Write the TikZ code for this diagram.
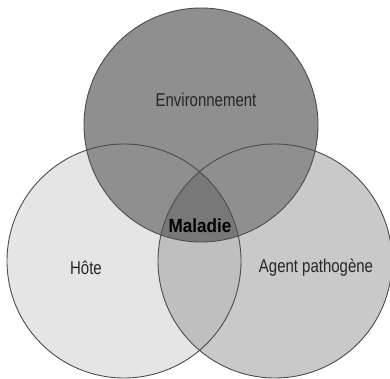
\documentclass[tikz,border=0pt]{standalone}
\usepackage{fontspec}
\setmainfont{Liberation Sans}[FakeStretch=0.81,BoldFeatures={FakeStretch=0.9}]
\definecolor{hotefill}{gray}{0.90}
\definecolor{agentfill}{gray}{0.79}
\definecolor{pairfill}{gray}{0.75}
\definecolor{envfill}{gray}{0.56}
\definecolor{maladiefill}{gray}{0.47}
\definecolor{edgegray}{gray}{0.30}
\newcommand{\circrad}{117}
\begin{document}
\begin{tikzpicture}
[x=1pt,y=-1pt,
  circledecorate/.style={draw=edgegray,line width=0.9pt},%
  labeldecorate/.style={font=\fontsize{18.5}{22}\selectfont,text=black!85}]
\useasboundingbox (0,0) rectangle (390,379);
% centres of the circles
\coordinate (env) at (201,125);
\coordinate (hote) at (124,261);
\coordinate (agent) at (275,261);
% fills
\fill[hotefill] (hote) circle [radius=\circrad];
\fill[agentfill] (agent) circle [radius=\circrad];
\begin{scope}
\clip (hote) circle [radius=\circrad];
\fill[pairfill] (agent) circle [radius=\circrad];
\end{scope}
\fill[envfill] (env) circle [radius=\circrad];
\begin{scope}
\clip (hote) circle [radius=\circrad];
\clip (agent) circle [radius=\circrad];
\fill[maladiefill] (env) circle [radius=\circrad];
\end{scope}
% outlines
\path[circledecorate]
(env) circle [radius=\circrad]
(hote) circle [radius=\circrad]
(agent) circle [radius=\circrad];
% labels
\node[labeldecorate] (envlabel) at (206,100) {Environnement};
\node[labeldecorate] (hotelabel) at (86,268) {Hôte};
\node[labeldecorate] (agentlabel) at (316,268) {Agent pathogène};
\node[labeldecorate,font=\fontsize{19}{22}\selectfont\bfseries,text=black] (maladie) at (200,226) {Maladie};
\end{tikzpicture}
\end{document}
